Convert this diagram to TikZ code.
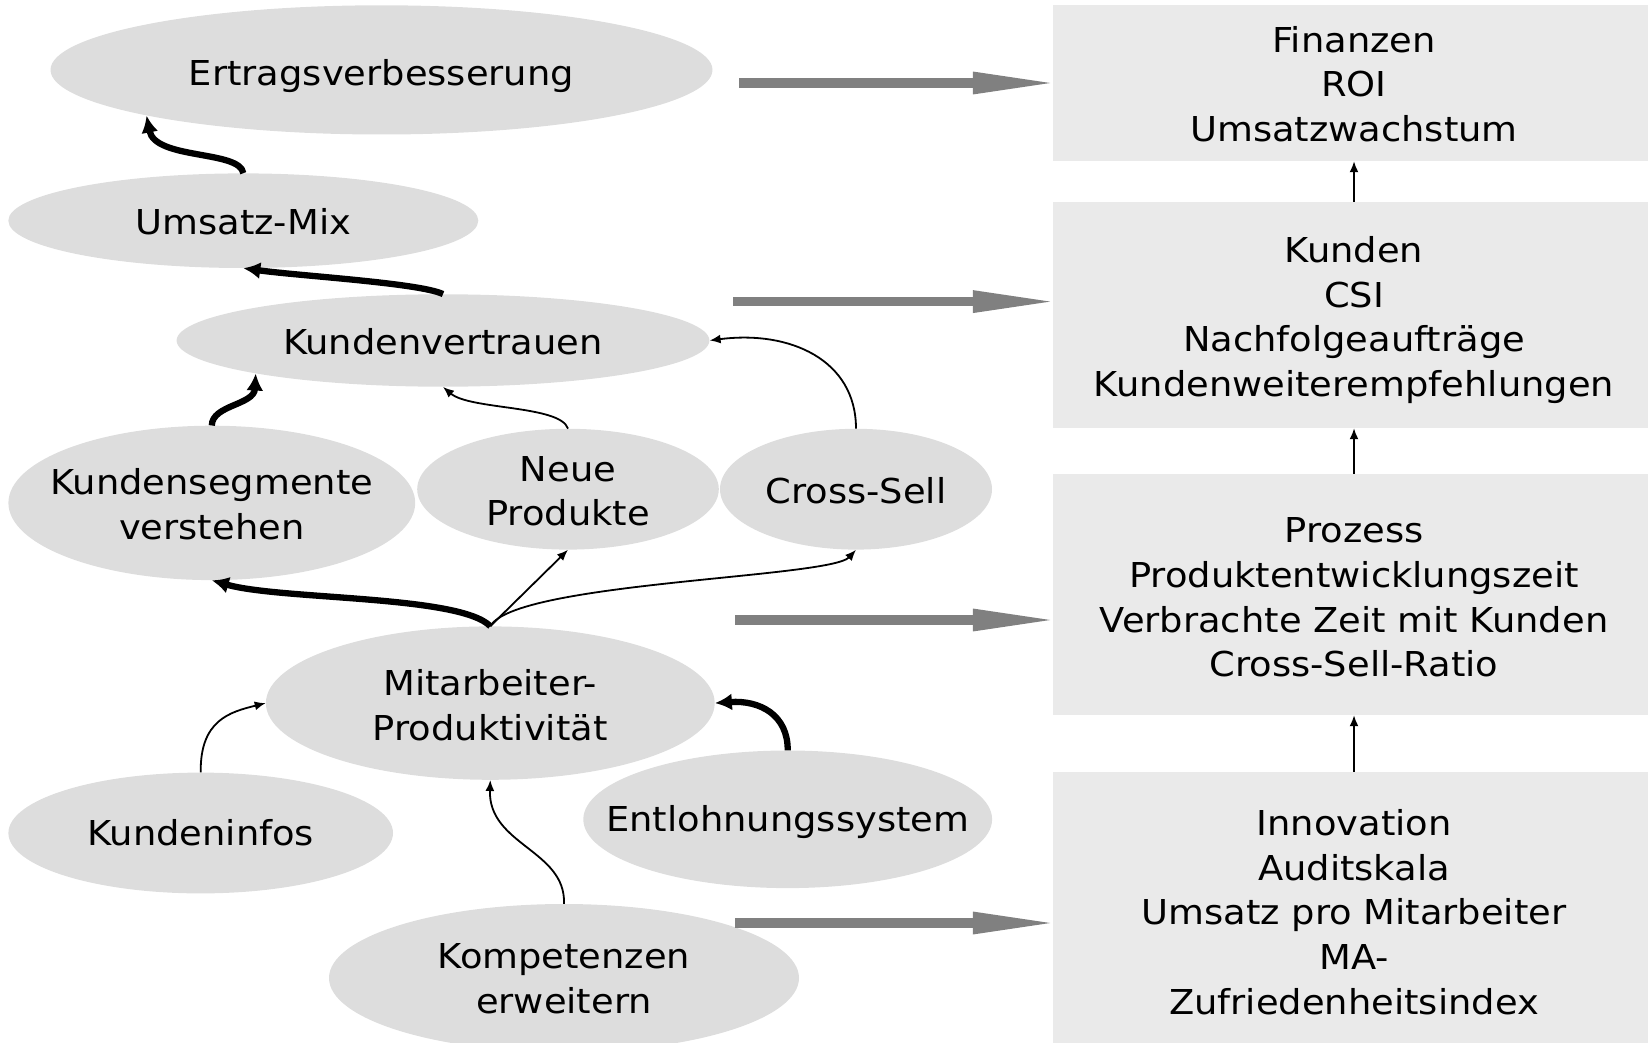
\documentclass[tikz,border=0pt]{standalone}
\usepackage{fontspec}
\setmainfont[FakeStretch=1.074]{DejaVu Sans}
\usetikzlibrary{arrows.meta,shapes.geometric}
\definecolor{ovalfill}{HTML}{DDDDDD}
\definecolor{boxfill}{HTML}{EAEAEA}
\definecolor{flowgray}{HTML}{808080}

\begin{document}
\begin{tikzpicture}[x=1pt,y=-1pt,
  oval/.style={ellipse, fill=ovalfill, inner sep=0pt},
  lbl/.style={align=center, inner sep=0pt, font=\fontsize{34.3}{44.7}\selectfont},
  kpibox/.style={rectangle, fill=boxfill, inner sep=0pt, align=center,
                 font=\fontsize{34.3}{44.7}\selectfont},
  thinarr/.style={line width=1.8pt, -{Latex[length=11pt,width=9pt]}},
  thickarr/.style={line width=6.3pt, -{Latex[length=17pt,width=17pt]}},
  flow/.style={line width=9.3pt, draw=flowgray, shorten >=-6pt,
               -{Triangle[length=86pt,width=20pt]}}
]
\clip (0,0) rectangle (1648,1043);

% driver ellipses
\node[oval, minimum width=662pt, minimum height=129.2pt] (er) at (381.5,69.9) {};
\node[lbl, yshift=-6pt] (er-t) at (er) {Ertragsverbesserung};
\node[oval, minimum width=470pt, minimum height=94.6pt] (um) at (243.3,220.7) {};
\node[lbl, yshift=-1pt] (um-t) at (um) {Umsatz-Mix};
\node[oval, minimum width=532.8pt, minimum height=92.4pt] (kv) at (443,340.5) {};
\node[lbl, yshift=-1pt] (kv-t) at (kv) {Kundenvertrauen};
\node[oval, minimum width=406.8pt, minimum height=154.4pt] (ks) at (211.8,502.9) {};
\node[lbl, yshift=-1pt] (ks-t) at (ks) {Kundensegmente\\verstehen};
\node[oval, minimum width=301.6pt, minimum height=120.8pt] (np) at (568,489.2) {};
\node[lbl, yshift=-2pt] (np-t) at (np) {Neue\\Produkte};
\node[oval, minimum width=272pt, minimum height=120.8pt] (cs) at (856,489.2) {};
\node[lbl, yshift=-2pt] (cs-t) at (cs) {Cross-Sell};
\node[oval, minimum width=448.8pt, minimum height=153.4pt] (mp) at (490.3,703.1) {};
\node[lbl, yshift=-2pt] (mp-t) at (mp) {Mitarbeiter-\\Produktivität};
\node[oval, minimum width=384.6pt, minimum height=120.8pt] (ki) at (200.7,833) {};
\node[lbl] (ki-t) at (ki) {Kundeninfos};
\node[oval, minimum width=408.8pt, minimum height=137.6pt] (es) at (787.7,819.3) {};
\node[lbl, yshift=-3pt] (es-t) at (es) {Entlohnungssystem};
\node[oval, minimum width=470pt, minimum height=148pt] (ko) at (564,978) {};
\node[lbl, yshift=-1pt] (ko-t) at (ko) {Kompetenzen\\erweitern};

% perspective boxes
\node[kpibox, minimum width=602pt, minimum height=156pt] (fin) at (1354,83) {};
\node[lbl, yshift=-1pt] (fin-t) at (fin) {Finanzen\\ROI\\Umsatzwachstum};
\node[kpibox, minimum width=602pt, minimum height=226pt] (kun) at (1354,315) {};
\node[lbl, yshift=-5pt] (kun-t) at (kun)
  {Kunden\\CSI\\Nachfolgeaufträge\\Kundenweiterempfehlungen};
\node[kpibox, minimum width=602pt, minimum height=241pt] (pro) at (1354,594.5) {};
\node[lbl, yshift=-3pt] (pro-t) at (pro)
  {Prozess\\Produktentwicklungszeit\\Verbrachte Zeit mit Kunden\\Cross-Sell-Ratio};
\node[kpibox, minimum width=602pt, minimum height=280pt] (inn) at (1354,912) {};
\node[lbl] (inn-t) at (inn)
  {Innovation\\Auditskala\\Umsatz pro Mitarbeiter\\MA-\\Zufriedenheitsindex};

% links between the boxes
\draw[thinarr] (kun.north) -- (fin.south);
\draw[thinarr] (pro.north) -- (kun.south);
\draw[thinarr] (inn.north) -- (pro.south);

% wide grey arrows into the boxes
\coordinate (f1) at (739,83);
\coordinate (f2) at (733,301.6);
\coordinate (f3) at (735,620);
\coordinate (f4) at (735,923);
\draw[flow] (f1) -- (f1 -| fin.west);
\draw[flow] (f2) -- (f2 -| kun.west);
\draw[flow] (f3) -- (f3 -| pro.west);
\draw[flow] (f4) -- (f4 -| inn.west);

% cause and effect links
\draw[thickarr] (um.north) .. controls (240,150) and (155,160) .. (er.191);
\draw[thickarr] (kv.north) .. controls (420,283) and (300,276) .. (um.south);
\draw[thickarr] (ks.north) .. controls (212,405) and (254,405) .. (kv.190);
\draw[thinarr] (np.north) .. controls (560,405) and (470,410) .. (kv.south);
\draw[thinarr] (cs.north) .. controls (856,360) and (790,330) .. (kv.east);
\draw[thickarr] (mp.north) .. controls (460,595) and (280,600) .. (ks.south);
\draw[thinarr] (mp.north) -- (np.south);
\draw[thinarr] (mp.north) .. controls (515,582) and (830,578) .. (cs.south);
\draw[thinarr] (ki.north) .. controls (200,720) and (230,712) .. (mp.west);
\draw[thickarr] (es.north) .. controls (788,715) and (760,700) .. (mp.east);
\draw[thinarr] (ko.north) .. controls (566,850) and (488,845) .. (mp.south);
\end{tikzpicture}
\end{document}
